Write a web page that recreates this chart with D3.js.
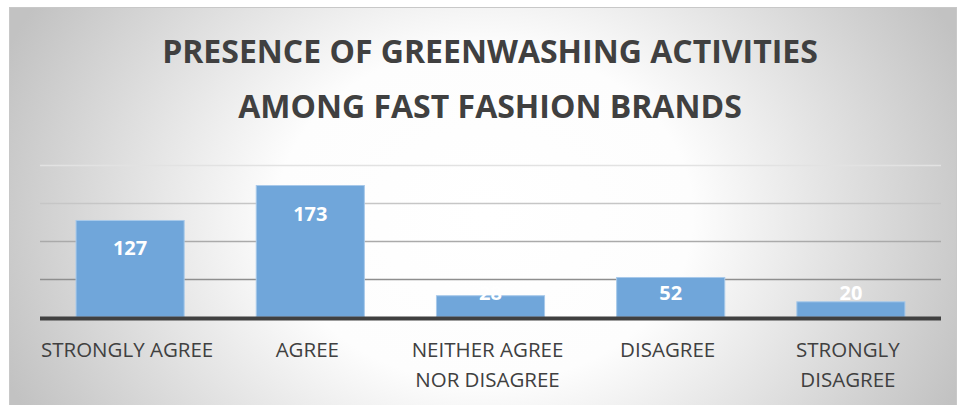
<!DOCTYPE html>
<html>
<head>
<meta charset="utf-8">
<script src="https://cdn.jsdelivr.net/npm/d3@7"></script>
<style>
  html, body { margin: 0; padding: 0; background: #ffffff; }
  svg { display: block; }
</style>
</head>
<body>
<svg id="chart" width="959" height="405"></svg>
<script>
// Survey responses on greenwashing among fast fashion brands
const categories = ["STRONGLY AGREE", "AGREE", "NEITHER AGREE NOR DISAGREE", "DISAGREE", "STRONGLY DISAGREE"];
const responses = [127, 173, 28, 52, 20];
const gridValues = [50, 100, 150, 200];
const titleLines = ["PRESENCE OF GREENWASHING ACTIVITIES", "AMONG FAST FASHION BRANDS"];

const svg = d3.select("#chart");
const font = "'Open Sans', 'Noto Sans', sans-serif";

// Framed chart area with a soft elliptical shading, white in the middle
const defs = svg.append("defs");
const bg = defs.append("radialGradient").attr("id", "bgShade")
  .attr("gradientUnits", "userSpaceOnUse")
  .attr("cx", 0).attr("cy", 0).attr("r", 1)
  .attr("gradientTransform", "translate(485,215) scale(520,420)");
bg.append("stop").attr("offset", "0%").attr("stop-color", "#ffffff");
bg.append("stop").attr("offset", "40%").attr("stop-color", "#fdfdfd");
bg.append("stop").attr("offset", "100%").attr("stop-color", "#c2c2c2");

svg.append("rect")
  .attr("x", 9.5).attr("y", 7.5).attr("width", 947).attr("height", 410)
  .attr("fill", "url(#bgShade)")
  .attr("stroke", "#c8c8c8").attr("stroke-width", 1);

const plot = { left: 40, right: 941, top: 165, bottom: 317 };

const x = d3.scaleBand()
  .domain(categories)
  .range([plot.left, plot.right])
  .paddingInner(0.4)
  .paddingOuter(0.2);

const y = d3.scaleLinear()
  .domain([0, 200])
  .range([plot.bottom, plot.top]);

// Gridlines fade out toward the top of the plot
const gridColor = d3.scaleLinear().domain([50, 200]).range(["#8e8e8e", "#e2e2e2"]);
const grid = svg.append("g")
  .attr("transform", `translate(${plot.left},0)`)
  .call(d3.axisLeft(y).tickValues(gridValues).tickSize(-(plot.right - plot.left)).tickFormat(""));
grid.select(".domain").remove();
grid.selectAll(".tick line")
  .attr("stroke", d => gridColor(d))
  .attr("stroke-width", 1.3);

// Bars
svg.append("g").selectAll("rect")
  .data(responses)
  .join("rect")
  .attr("x", (d, i) => x(categories[i]))
  .attr("width", x.bandwidth())
  .attr("y", d => y(d))
  .attr("height", d => y(0) - y(d))
  .attr("fill", "#70a6da")
  .attr("stroke", "#a8c9ea")
  .attr("stroke-width", 1);

// Value labels, inside the bar end, kept just above the axis for short bars
svg.append("g").selectAll("text")
  .data(responses)
  .join("text")
  .attr("x", (d, i) => x(categories[i]) + x.bandwidth() / 2)
  .attr("y", d => Math.min(y(d) + 35, y(0) - 17))
  .attr("text-anchor", "middle")
  .attr("font-family", font)
  .attr("font-weight", 700)
  .attr("font-size", "20px")
  .attr("fill", "#ffffff")
  .text(d => d);

// Category axis with wrapped labels
const xAxis = svg.append("g")
  .attr("transform", `translate(-3,${plot.bottom})`)
  .call(d3.axisBottom(x).tickSize(0).tickPadding(0));
xAxis.select(".domain").remove();
xAxis.selectAll(".tick text")
  .attr("font-family", font)
  .attr("font-size", "20.5px")
  .attr("fill", "#404040")
  .attr("y", 40)
  .attr("dy", 0)
  .each(function (d) {
    const t = d3.select(this);
    const words = d.split(" ");
    t.text(null);
    let line = [];
    let lineNo = 0;
    let tspan = t.append("tspan").attr("x", 0).attr("y", 40);
    words.forEach(w => {
      line.push(w);
      tspan.text(line.join(" "));
      if (tspan.node().getComputedTextLength() > x.step() - 4 && line.length > 1) {
        line.pop();
        tspan.text(line.join(" "));
        line = [w];
        lineNo += 1;
        tspan = t.append("tspan").attr("x", 0).attr("y", 40 + lineNo * 29.5).text(w);
      }
    });
  });

// Axis baseline
svg.append("line")
  .attr("x1", plot.left).attr("x2", plot.right)
  .attr("y1", y(0) + 1.5).attr("y2", y(0) + 1.5)
  .attr("stroke", "#404040")
  .attr("stroke-width", 4);

// Title
svg.append("g").selectAll("text")
  .data(titleLines)
  .join("text")
  .attr("x", 490)
  .attr("y", (d, i) => 63 + i * 55)
  .attr("text-anchor", "middle")
  .attr("font-family", font)
  .attr("font-weight", 700)
  .attr("font-size", "32px")
  .attr("fill", "#404040")
  .text(d => d);
</script>
</body>
</html>
